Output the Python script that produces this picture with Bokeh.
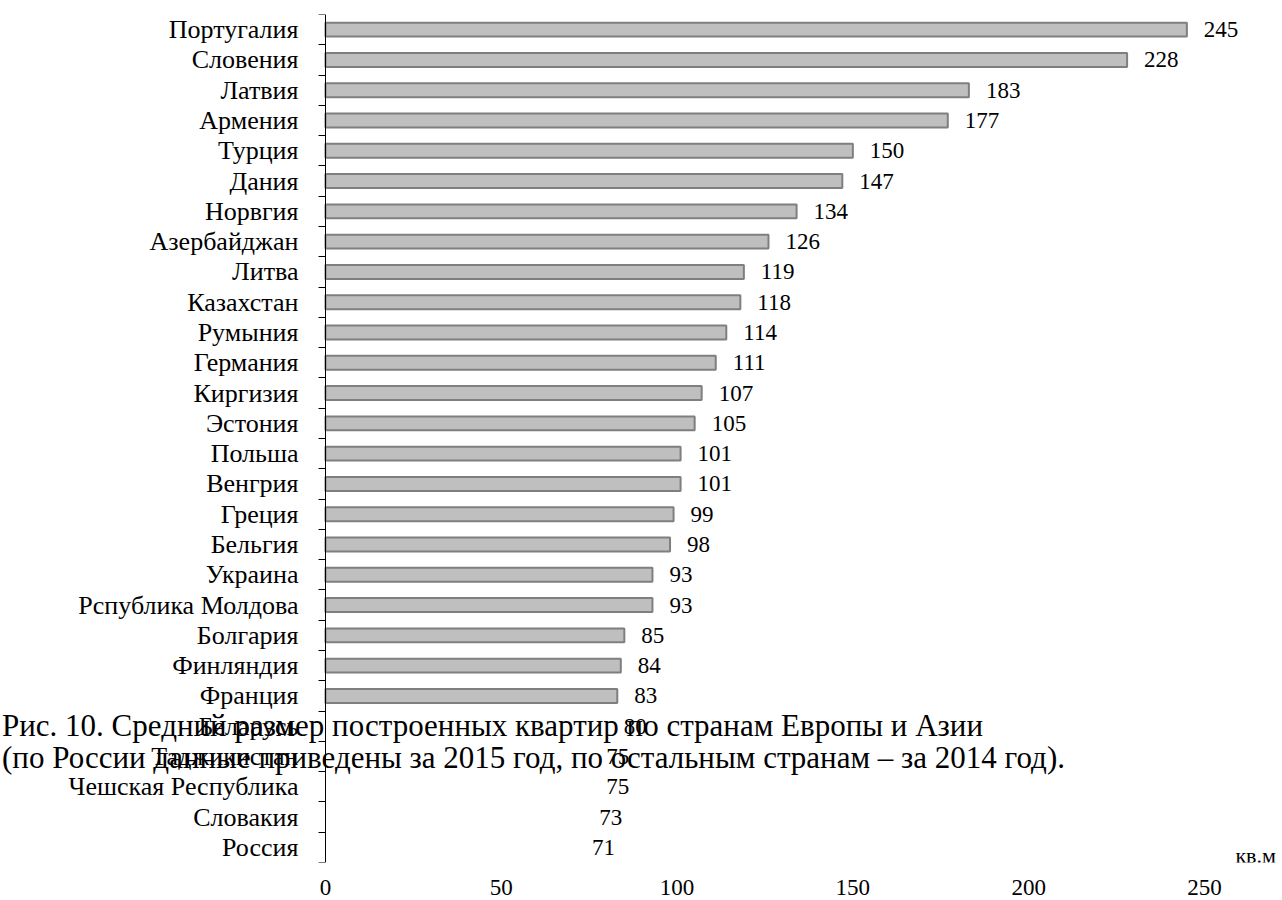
from bokeh.plotting import figure
from bokeh.models import (ColumnDataSource, FixedTicker, CustomJSTickFormatter,
                          Label, Range1d)
from bokeh.core.properties import value
from bokeh.embed import file_html
from bokeh.resources import INLINE

# Data (top to bottom as in the reference)
countries = ["Португалия", "Словения", "Латвия", "Армения", "Турция", "Дания",
             "Норвгия", "Азербайджан", "Литва", "Казахстан", "Румыния", "Германия",
             "Киргизия", "Эстония", "Польша", "Венгрия", "Греция", "Бельгия",
             "Украина", "Рспублика Молдова", "Болгария", "Финляндия", "Франция",
             "Беларусь", "Таджикистан", "Чешская Республика", "Словакия", "Россия"]
sizes = [245, 228, 183, 177, 150, 147, 134, 126, 119, 118, 114, 111, 107, 105,
         101, 101, 99, 98, 93, 93, 85, 84, 83, 80, 75, 75, 73, 71]
# in the reference the last five bars are not drawn, only their value labels
bar_drawn = [True] * 23 + [False] * 5
x_ticks = [0, 50, 100, 150, 200, 250]
unit_label = "кв.м"
caption_1 = "Рис. 10. Средний размер построенных квартир по странам Европы и Азии"
caption_2 = "(по России данные приведены за 2015 год, по остальным странам – за 2014 год)."

FONT = "Liberation Serif"
n = len(countries)
# bottom-up positions: Россия at 0.5
pos = [n - 0.5 - i for i in range(n)]
labels_bottom_up = list(reversed(countries))

bars = ColumnDataSource(dict(
    y=[p_ for p_, d in zip(pos, bar_drawn) if d],
    v=[v for v, d in zip(sizes, bar_drawn) if d],
))
vals = ColumnDataSource(dict(y=pos, v=sizes, t=[str(v) for v in sizes]))

# frame spans the whole canvas so the caption may overlap the label area
p = figure(width=1282, height=900, output_backend="svg", toolbar_location=None,
           x_range=Range1d(-92.43, 272.2), y_range=Range1d(0, n),
           min_border_left=0, min_border_right=0, min_border_top=14,
           min_border_bottom=38)
p.outline_line_color = None
p.xgrid.visible = False
p.ygrid.visible = False
p.background_fill_color = "white"
p.border_fill_color = "white"

p.hbar(y="y", left=0, right="v", height=0.46, source=bars,
       fill_color="#bfbfbf", line_color="#7f7f7f", line_width=2)

p.text(x="v", y="y", text="t", source=vals, x_offset=17,
       text_baseline="middle", text_align="left",
       text_font=value(FONT), text_font_size="23px", text_color="black")

# x axis
xa = p.xaxis[0]
xa.ticker = FixedTicker(ticks=x_ticks)
xa.axis_line_color = None
xa.major_tick_line_color = None
xa.minor_tick_line_color = None
xa.major_label_text_font = FONT
xa.major_label_text_font_size = "23px"
xa.major_label_text_color = "black"
xa.major_label_standoff = 11

# y axis fixed at x = 0: labels at band centres, small ticks at band boundaries
ya = p.yaxis[0]
ya.fixed_location = 0
ya.ticker = FixedTicker(ticks=pos, minor_ticks=list(range(n + 1)))
ya.formatter = CustomJSTickFormatter(args=dict(labels=labels_bottom_up),
                                     code="return labels[Math.round(tick - 0.5)];")
ya.axis_line_color = "black"
ya.axis_line_width = 1
ya.major_tick_line_color = None
ya.major_tick_out = 0
ya.major_tick_in = 0
ya.minor_tick_line_color = "black"
ya.minor_tick_out = 7
ya.minor_tick_in = 0
ya.major_label_text_font = FONT
ya.major_label_text_font_size = "26px"
ya.major_label_text_color = "black"
ya.major_label_standoff = 20

p.add_layout(Label(x=258.8, y=0.23, text=unit_label, text_font=FONT,
                   text_font_size="22px", text_baseline="middle",
                   text_color="black"))
p.add_layout(Label(x=-92.0, y=4.52, text=caption_1, text_font=FONT,
                   text_font_size="31px", text_baseline="middle",
                   text_color="black"))
p.add_layout(Label(x=-92.0, y=3.47, text=caption_2, text_font=FONT,
                   text_font_size="31px", text_baseline="middle",
                   text_color="black"))

open("out.html", "w").write(file_html(p, INLINE))
